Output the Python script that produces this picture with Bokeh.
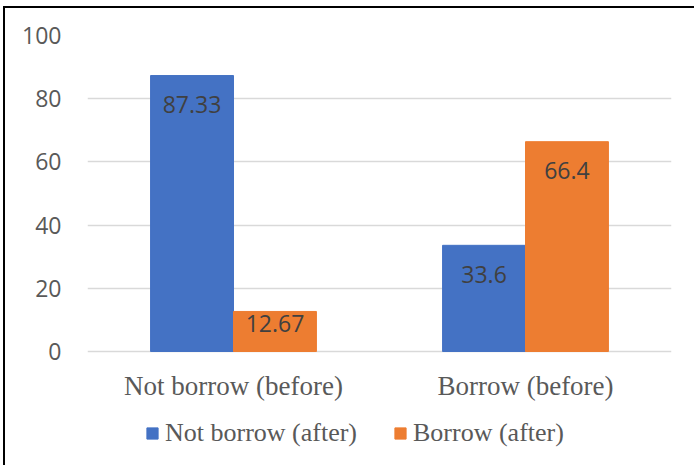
from bokeh.plotting import figure
from bokeh.models import ColumnDataSource, FactorRange, Legend, LegendItem, Range1d
from bokeh.transform import dodge
from bokeh.core.properties import value
from bokeh.embed import file_html
from bokeh.resources import INLINE

# Data
categories = ["Not borrow (before)", "Borrow (before)"]
not_borrow_after = [87.33, 33.6]
borrow_after = [12.67, 66.4]
y_ticks = [0, 20, 40, 60, 80, 100]

BLUE = "#4472C4"
ORANGE = "#ED7D31"
GRID = "#D9D9D9"
AXIS_TEXT = "#595959"
LABEL_TEXT = "#404040"

# Chart box runs past the right and bottom edges of the page
W, H = 705, 475
LEFT, TOP = 82, 27
FRAME_RIGHT = 666                 # canvas pixel column where the plot area ends
ZERO_Y = 343                      # canvas pixel row of the value 0
LEGEND_BOTTOM = 440               # canvas pixel row of the legend's lower edge
RIGHT = W - FRAME_RIGHT
px_per_unit = (ZERO_Y - TOP) / 100.0
y_bottom = -(H - ZERO_Y) / px_per_unit  # frame runs down to the canvas bottom


def label_offset(v):
    # inside-end placement; short bars get the label pushed up toward the top edge
    return 29 if v * px_per_unit > 60 else 12


src = ColumnDataSource(dict(
    cat=categories,
    zero=[0] * len(categories),
    nb=not_borrow_after,
    b=borrow_after,
    nb_txt=[f"{v:g}" for v in not_borrow_after],
    b_txt=[f"{v:g}" for v in borrow_after],
    nb_off=[label_offset(v) for v in not_borrow_after],
    b_off=[label_offset(v) for v in borrow_after],
))

p = figure(width=W, height=H, x_range=FactorRange(factors=categories, range_padding=0),
           y_range=Range1d(y_bottom, 100), output_backend="svg", toolbar_location=None,
           min_border_left=LEFT, min_border_right=RIGHT,
           min_border_top=TOP, min_border_bottom=0)
p.outline_line_color = None
p.background_fill_color = "white"
p.border_fill_color = "white"

half = 0.142
bw = 0.284
r1 = p.vbar(x=dodge("cat", -half, range=p.x_range), top="nb", width=bw, source=src,
            fill_color=BLUE, line_color=BLUE)
r2 = p.vbar(x=dodge("cat", half, range=p.x_range), top="b", width=bw, source=src,
            fill_color=ORANGE, line_color=ORANGE)

common = dict(text_font_size="23px", text_color=LABEL_TEXT, text_align="center",
              text_baseline="middle", text_font=value("Open Sans"))
p.text(x=dodge("cat", -half, range=p.x_range), y="nb", text="nb_txt", y_offset="nb_off",
       source=src, **common)
p.text(x=dodge("cat", half, range=p.x_range), y="b", text="b_txt", y_offset="b_off",
       source=src, **common)

# Category names under the baseline
p.text(x="cat", y="zero", text="cat", y_offset=34, source=src,
       text_font=value("Liberation Serif"), text_font_size="27px",
       text_color=AXIS_TEXT, text_align="center", text_baseline="alphabetic")

# Axes
p.xaxis.visible = False
p.yaxis.ticker = y_ticks
p.yaxis.axis_line_color = None
p.yaxis.major_tick_line_color = None
p.yaxis.minor_tick_line_color = None
p.yaxis.major_label_text_font = "Open Sans"
p.yaxis.major_label_text_font_size = "23px"
p.yaxis.major_label_text_color = AXIS_TEXT
p.yaxis.major_label_standoff = 20

p.xgrid.grid_line_color = None
p.ygrid.ticker = y_ticks
p.ygrid.grid_line_color = GRID
p.ygrid.grid_line_width = 1.3

# Legend at the bottom of the chart box
legend = Legend(items=[LegendItem(label="Not borrow (after)", renderers=[r1]),
                       LegendItem(label="Borrow (after)", renderers=[r2])],
                orientation="horizontal", location=(58, H - LEGEND_BOTTOM),
                glyph_width=14, glyph_height=14, label_standoff=6, spacing=36,
                padding=0, margin=0, border_line_color=None,
                background_fill_alpha=0)
legend.label_text_font = "Liberation Serif"
legend.label_text_font_size = "26px"
legend.label_text_color = AXIS_TEXT
p.add_layout(legend, "center")

# Black frame line along the top and left edges of the chart box
p.styles = {"border-style": "solid", "border-color": "black",
            "border-width": "2px 0px 0px 2px",
            "margin-top": "6px", "margin-left": "3px"}

html = file_html(p, INLINE)
html = html.replace("</head>", "<style>html,body{overflow:hidden;margin:0}</style></head>", 1)
open("out.html", "w").write(html)
